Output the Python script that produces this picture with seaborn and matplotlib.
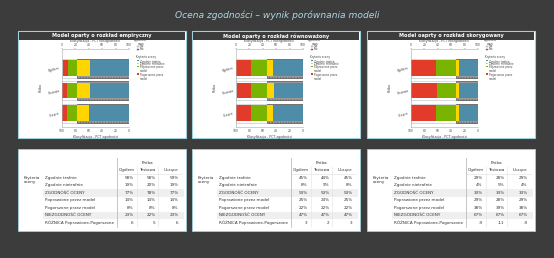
import matplotlib
matplotlib.use("Agg")
import matplotlib.pyplot as plt
from matplotlib.patches import Rectangle
import seaborn as sns

sns.set_theme(style="white")
plt.rcParams['font.family'] = ['DejaVu Sans']
plt.rcParams['hatch.linewidth'] = 0.3

# ---------------- data ----------------
samples = ['Ogółem', 'Testowa', 'Uczące']
criteria_labels = ['Zgodnie trafnie', 'Zgodnie nietrafnie', 'ZGODNOŚĆ OCENY',
                   'Poprawione przez model', 'Pogorszone przez model',
                   'NIEZGODNOŚĆ OCENY', 'RÓŻNICA Poprawione-Pogorszone']
legend_criteria = ['Zgodnie trafnie', 'Zgodnie nietrafnie',
                   'Poprawione przez\nmodel', 'Pogorszone przez\nmodel']
panel_titles = ['Model oparty o rozkład empiryczny',
                'Model oparty o rozkład równoważony',
                'Model oaprty o rozkład skorygowany']

emp_trafnie = [58, 58, 59]
emp_nietrafnie = [19, 20, 19]
emp_zgodnosc = [77, 78, 77]
emp_poprawione = [14, 14, 14]
emp_pogorszone = [8, 8, 8]
emp_niezgodnosc = [23, 22, 23]
emp_roznica = [6, 5, 6]

rown_trafnie = [45, 44, 45]
rown_nietrafnie = [8, 9, 8]
rown_zgodnosc = [53, 53, 53]
rown_poprawione = [25, 24, 25]
rown_pogorszone = [22, 22, 22]
rown_niezgodnosc = [47, 47, 47]
rown_roznica = [3, 2, 3]

skor_trafnie = [29, 28, 29]
skor_nietrafnie = [4, 5, 4]
skor_zgodnosc = [33, 33, 33]
skor_poprawione = [29, 28, 29]
skor_pogorszone = [38, 39, 38]
skor_niezgodnosc = [67, 67, 67]
skor_roznica = [-9, -11, -9]

models = [
    (emp_trafnie, emp_nietrafnie, emp_zgodnosc, emp_poprawione, emp_pogorszone, emp_niezgodnosc, emp_roznica),
    (rown_trafnie, rown_nietrafnie, rown_zgodnosc, rown_poprawione, rown_pogorszone, rown_niezgodnosc, rown_roznica),
    (skor_trafnie, skor_nietrafnie, skor_zgodnosc, skor_poprawione, skor_pogorszone, skor_niezgodnosc, skor_roznica),
]

# ---------------- style ----------------
BG = '#3c3c3c'
BORDER = '#9fd0dc'
C_BLUE = '#4e8ca8'
C_YEL = '#ffd500'
C_GRN = '#78b400'
C_RED = '#e23b2a'
TXT = '#333333'

W, H = 554, 258
fig = plt.figure(figsize=(W / 100, H / 100), dpi=100, facecolor=BG)
bg = fig.add_axes([0, 0, 1, 1])
bg.set_xlim(0, W)
bg.set_ylim(H, 0)
bg.axis('off')
bg.set_facecolor(BG)

bg.text(277, 15, 'Ocena zgodności – wynik porównania modeli', color='#a9d8e4',
        fontsize=6.6, style='italic', ha='center', va='center')

panel_x = [18, 192, 367]
PW = 168


def px_axes(x, y, w, h):
    return fig.add_axes([x / W, 1 - (y + h) / H, w / W, h / H])


for i, x0 in enumerate(panel_x):
    trafnie, nietrafnie, zgodnosc, poprawione, pogorszone, niezgodnosc, roznica = models[i]

    # ---- chart panel frame ----
    bg.add_patch(Rectangle((x0, 31), PW, 107, facecolor='white', edgecolor=BORDER, lw=0.8))
    bg.add_patch(Rectangle((x0 + 1, 32), PW - 2, 8, facecolor=BG, edgecolor='none'))
    bg.text(x0 + PW / 2, 36, panel_titles[i], color='white', fontsize=3.6,
            weight='bold', ha='center', va='center')

    # ---- chart ----
    ax = px_axes(x0 + 44, 48.7, 67, 78.3)
    ax.set_facecolor('white')
    cum_yel = [a + b for a, b in zip(trafnie, nietrafnie)]
    cum_grn = [a + b for a, b in zip(cum_yel, poprawione)]
    cum_red = [a + b for a, b in zip(cum_grn, pogorszone)]
    full = [100, 100, 100]

    sns.barplot(x=full, y=samples, orient='h', color='white', edgecolor='#bbbbbb',
                linewidth=0.4, width=0.84, saturation=1, ax=ax)
    sns.barplot(x=zgodnosc, y=samples, orient='h', color='#9a9a9a', edgecolor='#555555',
                linewidth=0.5, hatch='......', width=0.84, saturation=1, ax=ax)
    sns.barplot(x=cum_red, y=samples, orient='h', color=C_RED, width=0.68, saturation=1,
                linewidth=0, ax=ax)
    sns.barplot(x=cum_grn, y=samples, orient='h', color=C_GRN, width=0.68, saturation=1,
                linewidth=0, ax=ax)
    sns.barplot(x=cum_yel, y=samples, orient='h', color=C_YEL, width=0.68, saturation=1,
                linewidth=0, ax=ax)
    sns.barplot(x=trafnie, y=samples, orient='h', color=C_BLUE, width=0.68, saturation=1,
                linewidth=0, ax=ax)

    ax.set_xlim(100, 0)
    ax.set_ylim(2.62, -0.86)
    ax.set_xticks([100, 80, 60, 40, 20, 0])
    ax.tick_params(axis='x', labelsize=2.2, length=1, width=0.3, pad=0.8, colors='#444444')
    ax.tick_params(axis='y', labelsize=2.2, length=0, pad=1.5, colors='#444444')
    for lab in ax.get_yticklabels():
        lab.set_rotation(15)
    ax.set_xlabel('Klasyfikacja - PCT zgodności', fontsize=2.3, labelpad=0.8, color='#444444')
    ax.set_ylabel('Próba', fontsize=2.3, labelpad=3, color='#444444')
    ax.spines['right'].set_visible(False)
    for side in ['left', 'bottom', 'top']:
        ax.spines[side].set_color('#aaaaaa')
        ax.spines[side].set_linewidth(0.4)
    sec = ax.secondary_xaxis('top', functions=(lambda v: 100 - v, lambda v: 100 - v))
    sec.set_xticks([0, 20, 40, 60, 80, 100])
    sec.tick_params(labelsize=2.2, length=1, width=0.3, pad=0.5, colors='#444444')
    sec.spines['top'].set_visible(False)
    sec.set_xlabel('Klasyfikacja - PCT niezgodności', fontsize=2.3, labelpad=0.6, color='#444444')

    # ---- legend ----
    lx = x0 + 119
    bg.text(lx + 4, 41.8, 'Zgodność\nocen', fontsize=2.0, color='#444444', ha='center',
            va='center', linespacing=0.95)
    bg.add_patch(Rectangle((lx, 45.6), 2, 1.6, facecolor='white', edgecolor='#888888', lw=0.3))
    bg.text(lx + 2.8, 46.4, 'Nie', fontsize=2.0, color='#444444', va='center')
    bg.add_patch(Rectangle((lx, 48.5), 2, 1.6, facecolor='#888888', edgecolor='#555555', lw=0.3))
    bg.text(lx + 2.8, 49.3, 'Tak', fontsize=2.0, color='#444444', va='center')
    bg.text(lx + 9, 57, 'Kryteria oceny', fontsize=2.0, color='#444444', ha='center', va='center')
    ly = [60.6, 63.5, 66.4, 73.8]
    for col, lab, yy in zip([C_BLUE, C_YEL, C_GRN, C_RED], legend_criteria, ly):
        bg.add_patch(Rectangle((lx, yy - 0.9), 2, 1.8, facecolor=col, edgecolor='none'))
        bg.text(lx + 2.8, yy - 1.1, lab, fontsize=1.9, color='#444444', va='top',
                linespacing=0.95)

    # ---- table panel ----
    bg.add_patch(Rectangle((x0, 149), PW, 82, facecolor='white', edgecolor=BORDER, lw=0.6))
    row_y = [178 + 7.45 * k for k in range(7)]
    for k in (2, 5):
        bg.add_patch(Rectangle((x0 + 25, row_y[k] - 3.6), PW - 27, 7.2,
                               facecolor='#efefef', edgecolor='none'))
    bg.plot([x0 + 99, x0 + 99], [158, 227], color='#bbbbbb', lw=0.6)
    for cx in (x0 + 118.5, x0 + 140):
        bg.plot([cx, cx], [166, 227], color='#e4e4e4', lw=0.4)
    bg.plot([x0 + 99, x0 + PW - 4], [173.5, 173.5], color='#dddddd', lw=0.4)

    fs = 3.0
    bg.text(x0 + 129, 163, 'Próba', fontsize=fs, color=TXT, ha='center', va='center')
    for cx, lab in zip([x0 + 109, x0 + 129.5, x0 + 153], samples):
        bg.text(cx, 169.8, lab, fontsize=fs, color=TXT, ha='center', va='center')
    bg.text(x0 + 6, 176, 'Kryteria\noceny', fontsize=fs, color=TXT, ha='left', va='top',
            linespacing=1.0)
    cols = [trafnie, nietrafnie, zgodnosc, poprawione, pogorszone, niezgodnosc, roznica]
    for k, (lab, vals) in enumerate(zip(criteria_labels, cols)):
        bg.text(x0 + 27, row_y[k], lab, fontsize=fs, color=TXT, ha='left', va='center')
        suffix = '' if k == 6 else '%'
        for rx, v in zip([x0 + 115.5, x0 + 137.5, x0 + 160.5], vals):
            bg.text(rx, row_y[k], f'{v}{suffix}', fontsize=fs, color=TXT, ha='right',
                    va='center')

fig.savefig('out.png', dpi=100, facecolor=BG)
